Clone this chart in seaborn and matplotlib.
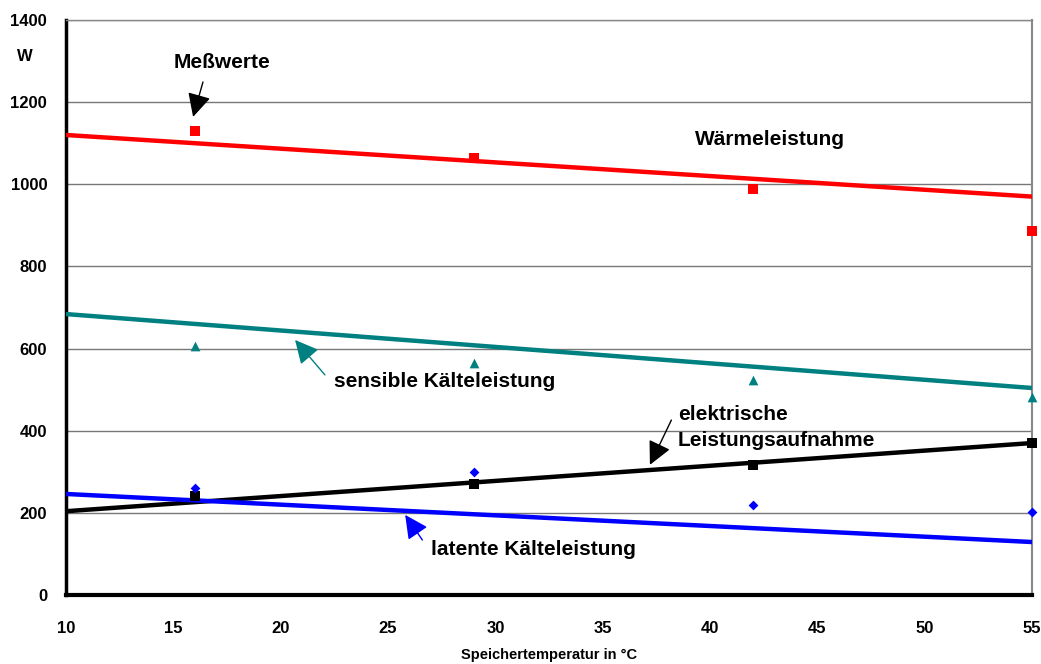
import numpy as np
import pandas as pd
import matplotlib
matplotlib.use('Agg')
import matplotlib.pyplot as plt
import seaborn as sns

# Messpunkte
temp = [16, 29, 42, 55]
waerme = [1130, 1064, 988, 886]
sensibel = [606, 565, 523, 482]
elektrisch = [241, 270, 316, 370]
latent = [260, 299, 219, 202]

# Kennlinien (Endpunkte bei 10 und 55 °C)
trend_x = [10, 55]
trend_waerme = [1120, 970]
trend_sensibel = [684, 504]
trend_elektrisch = [204, 370]
trend_latent = [246, 129]

sns.set_style('white')
plt.rcParams['font.family'] = ['Liberation Sans', 'DejaVu Sans']
plt.rcParams['font.weight'] = 'bold'
plt.rcParams['text.color'] = 'black'
plt.rcParams['axes.labelcolor'] = 'black'
plt.rcParams['xtick.color'] = 'black'
plt.rcParams['ytick.color'] = 'black'

fig = plt.figure(figsize=(10.41, 6.64), dpi=100)
ax = fig.add_axes([0.0634, 0.1039, 0.928, 0.866])

teal = '#008080'
series = [
    (trend_waerme, waerme, 'red', 's', 7),
    (trend_sensibel, sensibel, teal, '^', 7),
    (trend_elektrisch, elektrisch, 'black', 's', 7),
    (trend_latent, latent, 'blue', 'D', 5),
]
for tr, pts, col, mk, ms in series:
    sns.lineplot(x=trend_x, y=tr, color=col, lw=3.2, ax=ax, zorder=3)
    sns.scatterplot(x=temp, y=pts, color=col, marker=mk, s=ms**2,
                    edgecolor=col, linewidth=0, ax=ax, zorder=4, clip_on=False)

ax.set_xlim(10, 55)
ax.set_ylim(0, 1400)
ax.set_xticks(range(10, 56, 5))
ax.set_yticks(range(0, 1401, 200))
ax.yaxis.grid(True, color='#777777', lw=1)
ax.set_axisbelow(True)

for s in ['left', 'bottom']:
    ax.spines[s].set_color('black')
ax.spines['left'].set_linewidth(2.5)
ax.spines['bottom'].set_linewidth(3)
ax.spines['right'].set_color('#888888')
ax.spines['right'].set_linewidth(1.5)
ax.spines['top'].set_color('#888888')
ax.spines['top'].set_linewidth(1)
ax.tick_params(axis='both', direction='inout', length=9, width=2, labelsize=12, color='black')
ax.tick_params(axis='x', pad=14)
ax.tick_params(axis='y', pad=9)
for lab in ax.get_xticklabels() + ax.get_yticklabels():
    lab.set_fontweight('bold')

ax.set_xlabel('Speichertemperatur in °C', fontsize=10.5, fontweight='bold', labelpad=9)
fig.text(0.024, 0.915, 'W', fontsize=12, fontweight='bold', ha='center', va='center')

fs = 15
def arrow(txt, xy, xytext, col, tail=None, **kw):
    ax.annotate('', xy=xy, xytext=tail, zorder=6,
                arrowprops=dict(arrowstyle='-|>', color=col, lw=1,
                                mutation_scale=36, shrinkA=0, shrinkB=0))
    ax.text(xytext[0], xytext[1], txt, fontsize=fs, fontweight='bold', zorder=6, **kw)

arrow('Meßwerte', (15.92, 1164), (17.27, 1296), 'black', tail=(16.38, 1249),
      ha='center', va='center')
ax.text(42.8, 1108, 'Wärmeleistung', fontsize=fs, fontweight='bold', ha='center', va='center')
arrow('sensible Kälteleistung', (20.67, 621), (27.65, 519), teal, tail=(22.06, 536),
      ha='center', va='center')
arrow('elektrische\nLeistungsaufnahme', (37.2, 317), (38.5, 408), 'black', tail=(38.2, 426),
      ha='left', va='center', linespacing=1.5)
arrow('latente Kälteleistung', (25.8, 195), (31.76, 110), 'blue', tail=(26.6, 134),
      ha='center', va='center')

fig.savefig('out.png', dpi=100)
